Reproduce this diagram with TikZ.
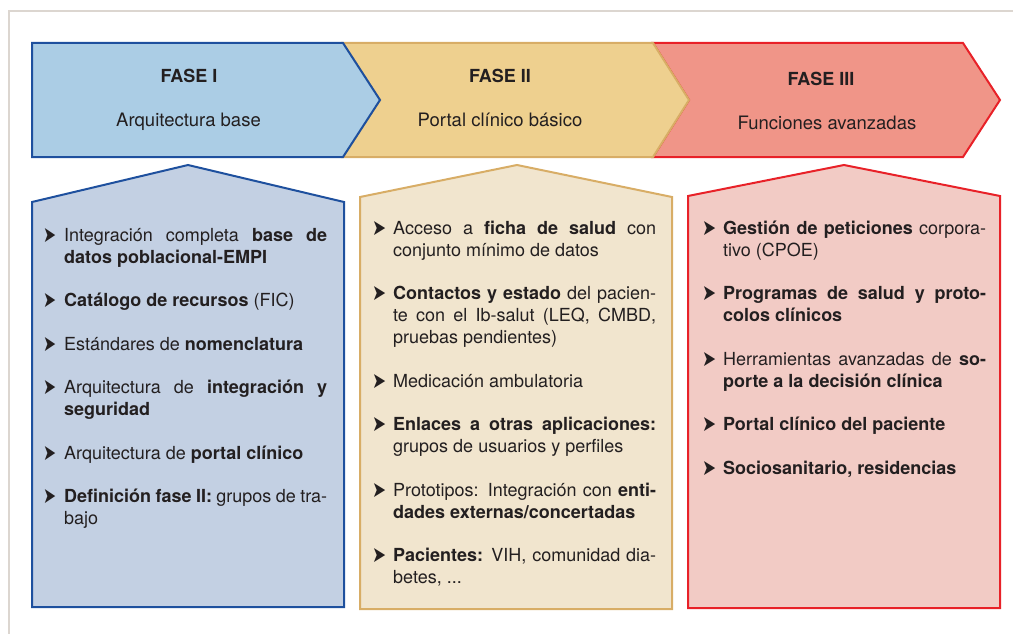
\documentclass[tikz,border=0pt]{standalone}
\usepackage{fontspec}
\setmainfont{TeX Gyre Heros}
\newfontfamily\bulletfont{DejaVu Sans}
\definecolor{faseblue}{RGB}{30, 80, 158}
\definecolor{bluefill}{RGB}{171, 205, 229}
\definecolor{bluebox}{RGB}{195, 208, 227}
\definecolor{fasetan}{RGB}{216, 173, 102}
\definecolor{tanfill}{RGB}{238, 208, 143}
\definecolor{tanbox}{RGB}{241, 229, 206}
\definecolor{fasered}{RGB}{232, 33, 40}
\definecolor{redfill}{RGB}{240, 149, 136}
\definecolor{redbox}{RGB}{242, 203, 197}
\definecolor{framegray}{RGB}{220, 214, 208}
\definecolor{textdark}{RGB}{35, 31, 32}
\usepackage{tikz}
\usetikzlibrary{positioning}

\newcommand{\bulwidth}{14pt}
\newcommand{\bul}{\noindent\llap{\makebox[21pt][l]{\raisebox{-1pt}{\resizebox{\bulwidth}{14pt}{\bulletfont ➤}}}}}
\newcommand{\itm}{\par\vspace{21.5pt}\bul}
\newcommand{\listsetup}{\fontsize{18}{22}\selectfont\hyphenpenalty=10000 \exhyphenpenalty=10000 \tolerance=10000 \hbadness=10000 }

\tikzset{
  phasebox/.style={line width=2pt, line join=miter},
  phasetitle/.style={anchor=base, inner sep=0pt, font=\fontsize{18}{22}\selectfont\bfseries, text=textdark},
  phasesub/.style={anchor=base, inner sep=0pt, font=\fontsize{18.5}{22}\selectfont, text=textdark},
  itemlist/.style={anchor=north west, inner sep=0pt, text width=263pt, align=justify, font=\listsetup, text=textdark}
}

\begin{document}
\begin{tikzpicture}[x=1pt, y=-1pt]
  \useasboundingbox (0,0) rectangle (1013,634);
  % Frame
  \draw[framegray, line width=2pt] (9,634) -- (9,11) -- (1013,11);

  % Phases
  \draw[phasebox, draw=fasered, fill=redfill] (653,43) -- (963,43) -- (1000,100) -- (963,157) -- (653,157) -- (689,100) -- cycle;
  \draw[phasebox, draw=fasetan, fill=tanfill] (343,43) -- (653,43) -- (689,100) -- (653,157) -- (343,157) -- (380,100) -- cycle;
  \draw[phasebox, draw=faseblue, fill=bluefill] (32,43) -- (343,43) -- (380,100) -- (343,157) -- (32,157) -- cycle;

  \node[phasetitle] (titleone) at (189,83) {FASE I};
  \node[phasesub] (subone) at ([xshift=-0.5pt, yshift=-44pt]titleone.base) {Arquitectura base};
  \node[phasetitle] (titletwo) at (500,83) {FASE II};
  \node[phasesub] (subtwo) at ([yshift=-44pt]titletwo.base) {Portal clínico básico};
  \node[phasetitle] (titlethree) at (821,85.5) {FASE III};
  \node[phasesub] (subthree) at ([xshift=6pt, yshift=-43.5pt]titlethree.base) {Funciones avanzadas};

  % Boxes
  \draw[phasebox, draw=faseblue, fill=bluebox] (32,607) -- (32,202) -- (188,165) -- (344,202) -- (344,607) -- cycle;
  \draw[phasebox, draw=fasetan, fill=tanbox] (360,609) -- (360,197) -- (517,165) -- (672,197) -- (672,609) -- cycle;
  \draw[phasebox, draw=fasered, fill=redbox] (688,608) -- (688,196) -- (844,165) -- (1000,196) -- (1000,608) -- cycle;

  \node[itemlist] (listone) at (64,226) {\renewcommand{\bulwidth}{13pt}%
    \bul\rule{0pt}{15pt}Integración completa \textbf{base de}\linebreak \textbf{datos poblacional-EMPI}
    \itm\textbf{Catálogo de recursos} (FIC)
    \itm Estándares de \textbf{nomenclatura}
    \itm Arquitectura de \textbf{integración y}\linebreak \textbf{seguridad}
    \itm Arquitectura de \textbf{portal clínico}
    \itm\textbf{Definición fase II:} grupos de tra-\linebreak bajo};

  \node[itemlist] (listtwo) at (393,219) {%
    \bul\rule{0pt}{15pt}Acceso a \textbf{ficha de salud} con\linebreak conjunto mínimo de datos
    \itm\textbf{Contactos y estado} del pacien-\linebreak te con el Ib-salut (LEQ, CMBD,\linebreak pruebas pendientes)
    \itm Medicación ambulatoria
    \itm\textbf{Enlaces a otras aplicaciones:}\linebreak grupos de usuarios y perfiles
    \itm Prototipos: Integración con \textbf{enti-}\linebreak \textbf{dades externas/concertadas}
    \itm\textbf{Pacientes:} VIH, comunidad dia-\linebreak betes, ...};

  \node[itemlist] (listthree) at (723,219) {%
    \bul\rule{0pt}{15pt}\textbf{Gestión de peticiones} corpora-\linebreak tivo (CPOE)
    \itm\textbf{Programas de salud y proto-}\linebreak \textbf{colos clínicos}
    \itm Herramientas avanzadas de \textbf{so-}\linebreak \textbf{porte a la decisión clínica}
    \itm\textbf{Portal clínico del paciente}
    \itm\textbf{Sociosanitario, residencias}};
\end{tikzpicture}
\end{document}
